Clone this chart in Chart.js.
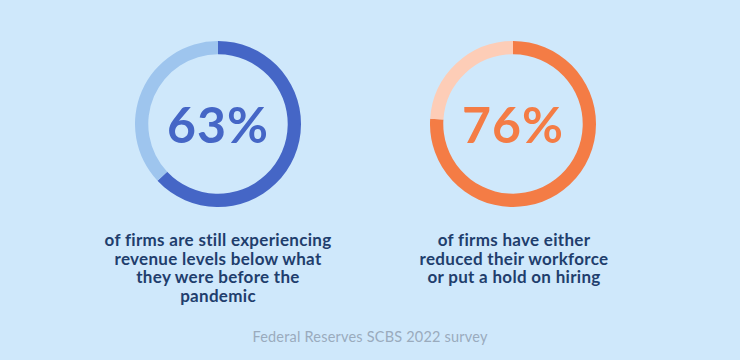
<!DOCTYPE html>
<html>
<head>
<meta charset="utf-8">
<script src="https://cdn.jsdelivr.net/npm/chart.js@4"></script>
<style>
  html, body { margin: 0; padding: 0; }
  body { width: 740px; height: 360px; background: #CFE8FB; position: relative; overflow: hidden; font-family: "Lato", "Open Sans", sans-serif; }
  .wrap { position: absolute; width: 166px; height: 166px; }
  .wrap canvas { position: absolute; left: 0; top: 0; }
  .center { position: absolute; left: 0; top: 0; width: 166px; height: 166px; display: flex; align-items: center; justify-content: center; font-size: 50px; font-weight: 700; letter-spacing: 1px; }
  .caption { position: absolute; width: 300px; text-align: center; color: #1F3E6D; font-weight: 700; font-size: 17px; letter-spacing: 0.3px; line-height: 18.7px; }
  .footer { position: absolute; left: 0; width: 740px; top: 328px; text-align: center; color: #9AABBD; font-size: 14.5px; letter-spacing: 0.2px; }
</style>
</head>
<body>
<div class="wrap" id="w1" style="left:135px; top:41px;"><canvas id="c1" width="166" height="166"></canvas><div class="center" id="t1" style="color:#4566C6;"></div></div>
<div class="wrap" id="w2" style="left:430px; top:41px;"><canvas id="c2" width="166" height="166"></canvas><div class="center" id="t2" style="color:#F47C45;"></div></div>
<div class="caption" id="cap1" style="left:68px; top:231px;"></div>
<div class="caption" id="cap2" style="left:364px; top:231px;"></div>
<div class="footer" id="foot"></div>
<script>
const categories = ["Share", "Remainder"];
const leftValues = [63, 37];
const rightValues = [76, 24];
const leftLabel = "63%";
const rightLabel = "76%";
const leftCaption = ["of firms are still experiencing", "revenue levels below what", "they were before the", "pandemic"];
const rightCaption = ["of firms have either", "reduced their workforce", "or put a hold on hiring"];
const footerText = "Federal Reserves SCBS 2022 survey";

document.getElementById('t1').textContent = leftLabel;
document.getElementById('t2').textContent = rightLabel;
document.getElementById('cap1').innerHTML = leftCaption.join('<br>');
document.getElementById('cap2').innerHTML = rightCaption.join('<br>');
document.getElementById('foot').textContent = footerText;

function makeDonut(id, values, colors) {
  new Chart(document.getElementById(id), {
    type: 'doughnut',
    data: { labels: categories, datasets: [{ data: values, backgroundColor: colors, borderWidth: 0 }] },
    options: {
      responsive: false,
      animation: false,
      cutout: '84%',
      layout: { padding: 0 },
      plugins: { legend: { display: false }, tooltip: { enabled: false } },
      events: []
    }
  });
}
makeDonut('c1', leftValues, ['#4566C6', '#9EC5EE']);
makeDonut('c2', rightValues, ['#F47C45', '#FDCDB7']);
</script>
</body>
</html>
